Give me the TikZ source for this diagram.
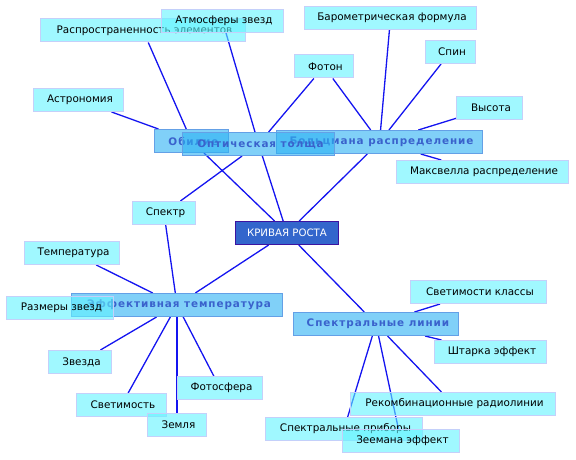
\documentclass[tikz,border=0pt]{standalone}
\usepackage{fontspec}
\setmainfont{DejaVu Sans}
\newfontfamily\topicfont[LetterSpace=9]{DejaVu Sans}
\usetikzlibrary{backgrounds}
\definecolor{leaffill}{RGB}{97,243,255}
\definecolor{leafborder}{RGB}{196,208,250}
\definecolor{topicfill}{RGB}{43,177,243}
\definecolor{topicborder}{RGB}{100,160,230}
\definecolor{topictext}{RGB}{58,98,204}
\definecolor{rootfill}{RGB}{51,102,204}
\definecolor{rootborder}{RGB}{60,20,160}
\definecolor{edgecol}{RGB}{20,20,240}
\tikzset{
  leaf/.style={draw=leafborder, line width=1pt, fill=leaffill, fill opacity=0.6, text opacity=1,
    minimum height=23pt, inner sep=0pt, text=black, font=\fontsize{10.4}{12}\selectfont,
    execute at begin node=\hspace*{3pt}},
  topic/.style={draw=topicborder, line width=1pt, fill=topicfill, fill opacity=0.6, text opacity=1,
    minimum height=23pt, inner sep=0pt, text=topictext, font=\fontsize{10.4}{12}\topicfont\bfseries,
    execute at begin node=\hspace*{4pt}},
  rootbox/.style={draw=rootborder, line width=1pt, fill=rootfill, text=white,
    minimum height=23pt, minimum width=103pt, inner sep=0pt, font=\fontsize{10.2}{12}\selectfont},
  edge/.style={draw=edgecol, line width=1.3pt}
}
\begin{document}
\begin{tikzpicture}[x=1pt,y=-1pt]
\useasboundingbox (0,0) rectangle (576,460);
% leaves and topics, in drawing order
\node[leaf, minimum width=205pt] (rasp) at (143,30.5) {Распространенность элементов};
\node[leaf, minimum width=122pt] (atm) at (222.5,21) {Атмосферы звезд};
\node[leaf, minimum width=90pt] (astr) at (78.5,100) {Астрономия};
\node[leaf, minimum width=172pt] (baro) at (390.5,18) {Барометрическая формула};
\node[leaf, minimum width=50pt] (spin) at (450.5,52) {Спин};
\node[leaf, minimum width=59pt] (foton) at (324,66.5) {Фотон};
\node[leaf, minimum width=66pt] (vys) at (489.5,108) {Высота};
\node[leaf, minimum width=172pt] (maks) at (482.5,172) {Максвелла распределение};
\node[topic, minimum width=74pt] (obil) at (191.5,141) {Обилие};
\node[topic, minimum width=206pt] (bolc) at (379.5,142) {Больцмана распределение};
\node[topic, minimum width=152pt] (opt) at (258.5,144) {Оптическая толща};
\node[rootbox] (kriv) at (287,233) {КРИВАЯ РОСТА};
\node[leaf, minimum width=63pt] (spektr) at (164,213) {Спектр};
\node[leaf, minimum width=95pt] (temp) at (72,253) {Температура};
\node[topic, minimum width=211pt] (eff) at (177,305) {Эффективная температура};
\node[leaf, minimum width=107pt] (razm) at (60,308) {Размеры звезд};
\node[leaf, minimum width=63pt] (zvezda) at (80,362) {Звезда};
\node[leaf, minimum width=90pt] (svet) at (121.5,405) {Светимость};
\node[leaf, minimum width=59pt] (zemlya) at (177,425) {Земля};
\node[leaf, minimum width=85pt] (fotosf) at (220,388) {Фотосфера};
\node[topic, minimum width=165pt] (speklin) at (376,324) {Спектральные линии};
\node[leaf, minimum width=136pt] (svetkl) at (478.5,292) {Светимости классы};
\node[leaf, minimum width=112pt] (shtark) at (490.5,352) {Штарка эффект};
\node[leaf, minimum width=205pt] (rekomb) at (453,404) {Рекомбинационные радиолинии};
\node[leaf, minimum width=157pt] (sppribor) at (344,429) {Спектральные приборы};
\node[leaf, minimum width=117pt] (zeeman) at (401,441) {Зеемана эффект};
\begin{pgfonlayer}{background}
\draw[edge] (kriv) -- (obil);
\draw[edge] (kriv) -- (opt);
\draw[edge] (kriv) -- (bolc);
\draw[edge] (kriv) -- (eff);
\draw[edge] (kriv) -- (speklin);
\draw[edge] (obil) -- (rasp);
\draw[edge] (obil) -- (astr);
\draw[edge] (opt) -- (atm);
\draw[edge] (opt) -- (spektr);
\draw[edge] (opt) -- (foton);
\draw[edge] (bolc) -- (foton);
\draw[edge] (bolc) -- (baro);
\draw[edge] (bolc) -- (spin);
\draw[edge] (bolc) -- (vys);
\draw[edge] (bolc) -- (maks);
\draw[edge] (eff) -- (temp);
\draw[edge] (eff) -- (spektr);
\draw[edge] (eff) -- (zvezda);
\draw[edge] (eff) -- (svet);
\draw[edge] (eff) -- (zemlya);
\draw[edge] (eff) -- (fotosf);
\draw[edge] (speklin) -- (svetkl);
\draw[edge] (speklin) -- (shtark);
\draw[edge] (speklin) -- (rekomb);
\draw[edge] (speklin) -- (sppribor);
\draw[edge] (speklin) -- (zeeman);
\end{pgfonlayer}
\end{tikzpicture}
\end{document}
